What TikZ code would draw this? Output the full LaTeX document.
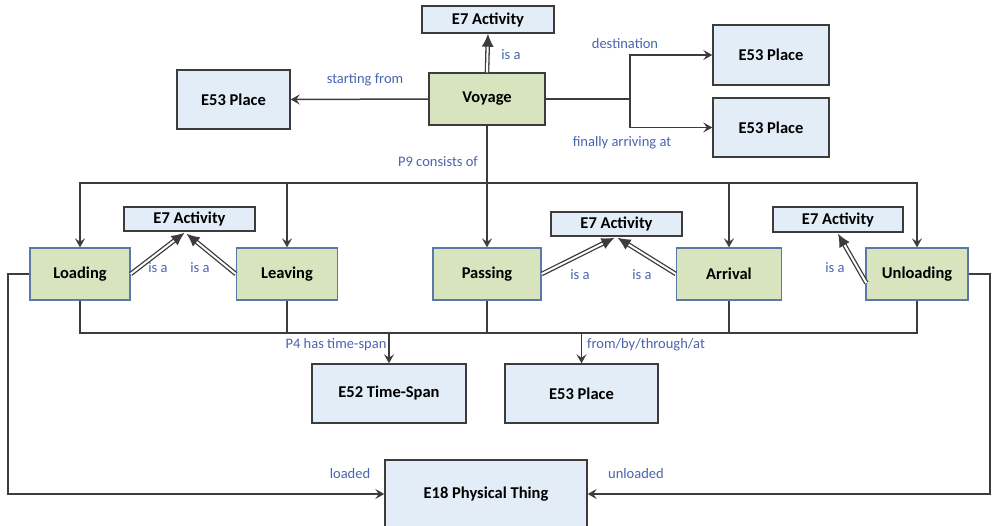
\documentclass[tikz,border=0pt]{standalone}
\usepackage{fontspec}
\setmainfont{Carlito}
\usetikzlibrary{arrows.meta,calc}
\definecolor{boxblue}{HTML}{E3EDF8}
\definecolor{boxgreen}{HTML}{D7E4BD}
\definecolor{edgegray}{HTML}{3C3C3C}
\definecolor{lblblue}{HTML}{4A64AE}
\definecolor{greenrim}{HTML}{5A78A8}
\begin{document}
\begin{tikzpicture}[x=1pt,y=-1pt,
  cls/.style={draw=edgegray, line width=1.4pt, fill=boxblue, inner sep=0pt,
    font=\fontsize{16.5}{18}\selectfont\bfseries},
  evt/.style={draw=greenrim, line width=1.3pt, fill=boxgreen, inner sep=0pt,
    font=\fontsize{16.5}{18}\selectfont\bfseries},
  link/.style={draw=edgegray, line width=1.5pt},
  tip/.style={-{Stealth[length=9pt,width=10pt,inset=3.5pt]}},
  lbl/.style={text=lblblue, inner sep=0pt, font=\fontsize{14.5}{16}\selectfont},
  isa/.style={draw=edgegray, double=white, double distance=2pt, line width=1.3pt,
    -{Latex[length=13pt,width=12pt]}}
]
\clip (0,0) rectangle (996,525);
\useasboundingbox (0,0) rectangle (996,525);

% classes and events
\node[cls, minimum width=132, minimum height=27] (act0) at (488,19.5) {E7 Activity};
\node[evt, draw=edgegray, minimum width=116, minimum height=52] (voy) at (487,99) {Voyage};
\node[cls, minimum width=113, minimum height=59] (plL) at (233.5,99.5) {E53 Place};
\node[cls, minimum width=116, minimum height=60] (plT) at (771,55) {E53 Place};
\node[cls, minimum width=116, minimum height=59] (plB) at (771,127.5) {E53 Place};

\node[evt, minimum width=100, minimum height=52] (load) at (80,274) {Loading};
\node[cls, minimum width=131, minimum height=24] (act1) at (189.5,219) {E7 Activity};
\node[evt, minimum width=101, minimum height=52] (leave) at (287,274) {Leaving};
\node[evt, minimum width=108, minimum height=52] (pass) at (487,274) {Passing};
\node[cls, minimum width=131, minimum height=24] (act2) at (616.5,224) {E7 Activity};
\node[evt, minimum width=105, minimum height=52] (arr) at (729,274) {Arrival};
\node[cls, minimum width=130, minimum height=25] (act3) at (838,219.5) {E7 Activity};
\node[evt, minimum width=102, minimum height=52] (unl) at (917,274) {Unloading};

\node[cls, minimum width=154, minimum height=59] (ts) at (389,393.5) {E52 Time-Span};
\node[cls, minimum width=153, minimum height=59] (plC) at (581.5,393.5) {E53 Place};
\node[cls, minimum width=202, minimum height=68] (pt) at (486,494) {E18 Physical Thing};

% voyage properties
\draw[link,tip] (voy.west) -- (plL.east);
\coordinate (fork) at (630,99);
\draw[link] (voy.east) -- (fork);
\draw[link,tip] (fork) |- (plT.west);
\draw[link,tip] (fork) |- (plB.west);
\draw[isa] (voy.north) -- (act0.south);

% consists of
\coordinate (hub) at (487,183);
\draw[link] (voy.south) -- (hub);
\draw[link,tip] (hub) -| (load.north);
\draw[link,tip] (hub) -| (unl.north);
\draw[link,tip] (leave.north |- hub) -- (leave.north);
\draw[link,tip] (hub) -- (pass.north);
\draw[link,tip] (arr.north |- hub) -- (arr.north);

% is a
\draw[isa] (load.east) -- ($(act1.south)+(-5,1)$);
\draw[isa] (leave.west) -- ($(act1.south)+(-3,2)$);
\draw[isa] (pass.east) -- ($(act2.south)+(-2,1)$);
\draw[isa] (arr.west) -- ($(act2.south)+(1,1)$);
\draw[isa] ($(unl.west)+(1,9)$) -- ($(act3.south)+(0,1)$);

% time-span and place
\coordinate (lowL) at (80,333);
\coordinate (lowR) at (917,333);
\draw[link] (load.south) -- (load.south |- lowL) -- (lowR) -- (unl.south);
\draw[link] (leave.south) -- (leave.south |- lowL);
\draw[link] (pass.south) -- (pass.south |- lowL);
\draw[link] (arr.south) -- (arr.south |- lowL);
\draw[link,tip] (ts.north |- lowL) -- (ts.north);
\draw[link,tip] (plC.north |- lowL) -- (plC.north);

% loaded / unloaded
\draw[link,tip] (load.west) -- (8,274) |- (pt.west);
\draw[link,tip] (unl.east) -- (990,274) |- (pt.east);

% labels
\node[lbl] (l1) at (365,80) {starting from};
\node[lbl] (l2) at (511,55) {is a};
\node[lbl] (l3) at (625,44) {destination};
\node[lbl] (l4) at (622,143) {finally arriving at};
\node[lbl] (l5) at (438,162) {P9 consists of};
\node[lbl] (l6) at (158,268) {is a};
\node[lbl] (l7) at (200,268) {is a};
\node[lbl] (l8) at (580,275) {is a};
\node[lbl] (l9) at (642,275) {is a};
\node[lbl] (l10) at (835,268) {is a};
\node[lbl] (l11) at (336,345) {P4 has time-span};
\node[lbl] (l12) at (646,345) {from/by/through/at};
\node[lbl] (l13) at (350,474) {loaded};
\node[lbl] (l14) at (636,474) {unloaded};
\end{tikzpicture}
\end{document}
